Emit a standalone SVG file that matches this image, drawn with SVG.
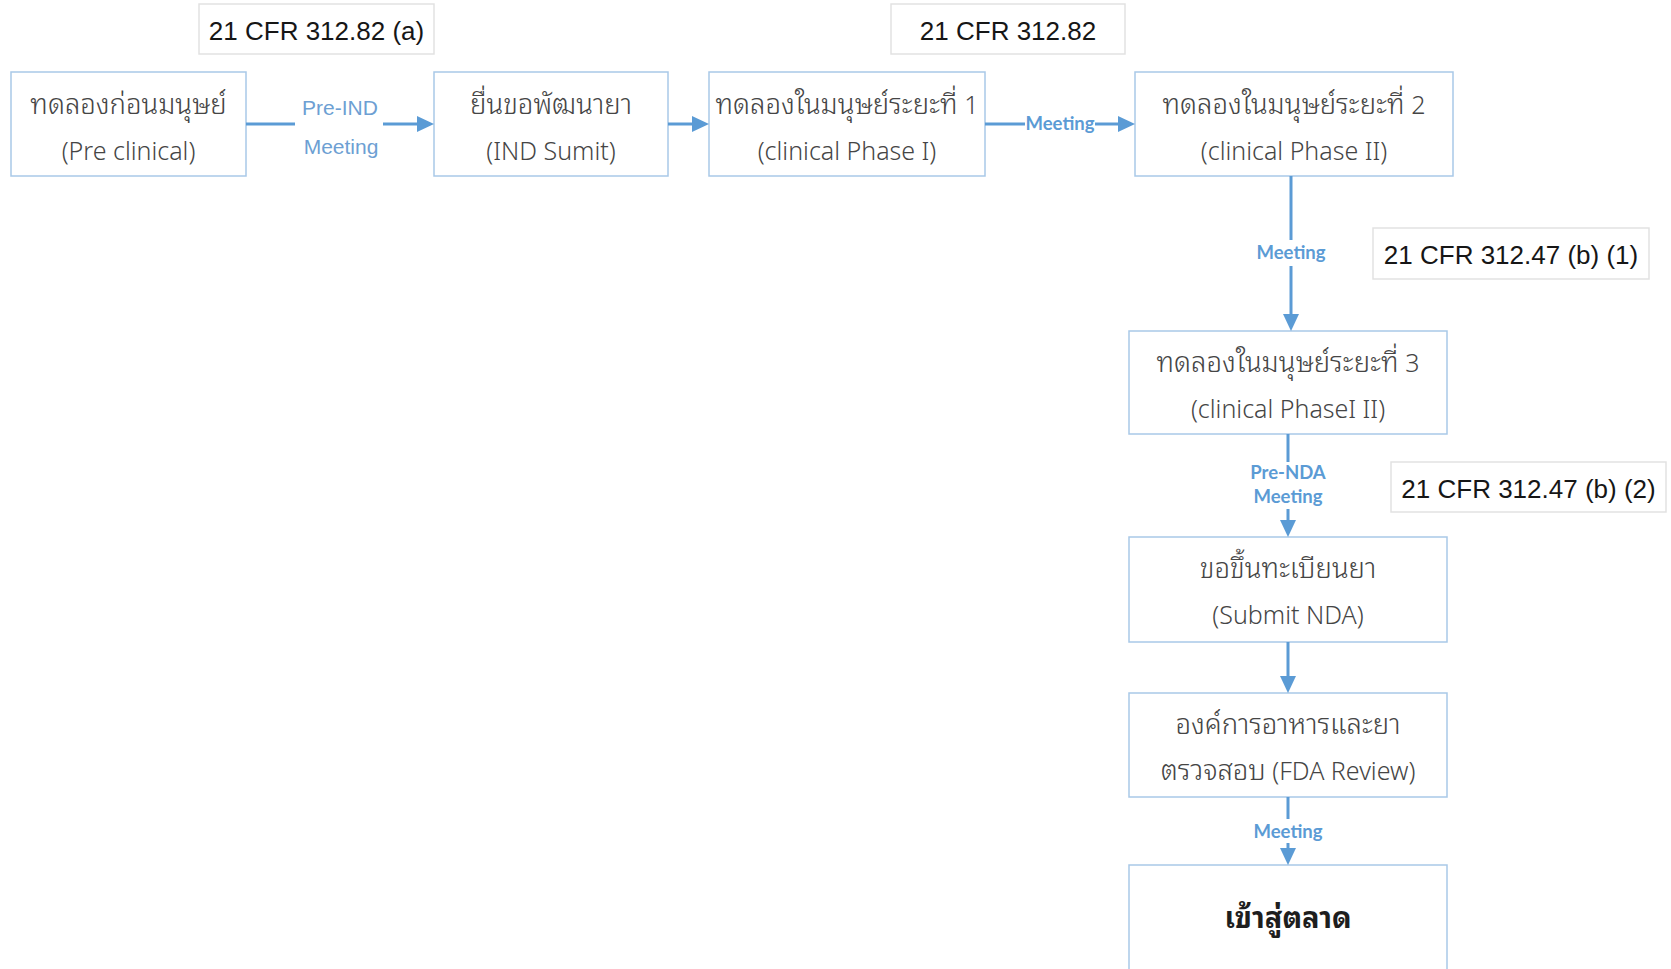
<svg xmlns="http://www.w3.org/2000/svg" width="1671" height="969" viewBox="0 0 1671 969">
  <style>
    .node rect { fill: #ffffff; stroke: #a9c9e8; stroke-width: 1.5; }
    .ref rect { fill: #ffffff; stroke: #e2e2e2; stroke-width: 1.5; }
    .t { font-family: "Noto Sans", "Noto Sans Thai", sans-serif; font-size: 25px; font-weight: 300; fill: #454545; text-anchor: middle; }
    .th { font-family: "Noto Sans Thai Looped", "Loma", "Garuda", "Noto Sans Thai", "Noto Sans", sans-serif; font-size: 27.5px; }
    .tb { font-weight: bold; font-size: 29px; fill: #1e1e1e; }
    .cfr { font-family: "Liberation Sans", Arial, sans-serif; font-size: 26px; fill: #161616; text-anchor: middle; }
    .lbl { font-family: "Liberation Sans", Arial, sans-serif; font-size: 21px; fill: #6d9fd3; text-anchor: middle; }
    .mtg { font-family: Lato, "Open Sans", sans-serif; font-weight: bold; font-size: 18.5px; fill: #5b9bd5; text-anchor: middle; }
    .edge { stroke: #5b9bd5; stroke-width: 3; fill: none; }
  </style>
  <defs>
    <marker id="arrow" markerUnits="userSpaceOnUse" markerWidth="17" markerHeight="16" refX="0" refY="8" orient="auto">
      <path d="M0,0 L17,8 L0,16 Z" fill="#5b9bd5"/>
    </marker>
  </defs>

  <rect width="1671" height="969" fill="#ffffff"/>

  <!-- regulation references -->
  <g id="ref-312-82a" class="ref">
    <rect x="199" y="4" width="235" height="50"/>
    <text class="cfr" x="316.5" y="40">21 CFR 312.82 (a)</text>
  </g>
  <g id="ref-312-82" class="ref">
    <rect x="891" y="4" width="234" height="50"/>
    <text class="cfr" x="1008" y="40">21 CFR 312.82</text>
  </g>
  <g id="ref-312-47b1" class="ref">
    <rect x="1373" y="228" width="276" height="51"/>
    <text class="cfr" x="1511" y="264">21 CFR 312.47 (b) (1)</text>
  </g>
  <g id="ref-312-47b2" class="ref">
    <rect x="1391" y="462" width="275" height="50"/>
    <text class="cfr" x="1528.5" y="498">21 CFR 312.47 (b) (2)</text>
  </g>

  <!-- process steps -->
  <g id="preclinical" class="node">
    <rect x="11" y="72" width="235" height="104"/>
    <text class="t" x="128.5" y="114"><tspan class="th">ทดลองก่อนมนุษย์</tspan></text>
    <text class="t" x="128.5" y="160">(Pre clinical)</text>
  </g>
  <g id="ind-submit" class="node">
    <rect x="434" y="72" width="234" height="104"/>
    <text class="t" x="551" y="114"><tspan class="th">ยื่นขอพัฒนายา</tspan></text>
    <text class="t" x="551" y="160">(IND Sumit)</text>
  </g>
  <g id="phase-1" class="node">
    <rect x="709" y="72" width="276" height="104"/>
    <text class="t" x="847" y="114"><tspan class="th">ทดลองในมนุษย์ระยะที่</tspan> 1</text>
    <text class="t" x="847" y="160">(clinical Phase I)</text>
  </g>
  <g id="phase-2" class="node">
    <rect x="1135" y="72" width="318" height="104"/>
    <text class="t" x="1294" y="114"><tspan class="th">ทดลองในมนุษย์ระยะที่</tspan> 2</text>
    <text class="t" x="1294" y="160">(clinical Phase II)</text>
  </g>
  <g id="phase-3" class="node">
    <rect x="1129" y="331" width="318" height="103"/>
    <text class="t" x="1288" y="372"><tspan class="th">ทดลองในมนุษย์ระยะที่</tspan> 3</text>
    <text class="t" x="1288" y="418">(clinical PhaseI II)</text>
  </g>
  <g id="nda-submit" class="node">
    <rect x="1129" y="537" width="318" height="105"/>
    <text class="t" x="1288" y="578"><tspan class="th">ขอขึ้นทะเบียนยา</tspan></text>
    <text class="t" x="1288" y="624">(Submit NDA)</text>
  </g>
  <g id="fda-review" class="node">
    <rect x="1129" y="693" width="318" height="104"/>
    <text class="t" x="1288" y="734"><tspan class="th">องค์การอาหารและยา</tspan></text>
    <text class="t" x="1288" y="780"><tspan class="th">ตรวจสอบ</tspan> (FDA Review)</text>
  </g>
  <g id="market" class="node">
    <rect x="1129" y="865" width="318" height="120"/>
    <text class="t" x="1288" y="928"><tspan class="th tb">เข้าสู่ตลาด</tspan></text>
  </g>

  <!-- connectors -->
  <g id="connectors">
    <line class="edge" x1="246" y1="124" x2="295" y2="124"/>
    <line class="edge" x1="383" y1="124" x2="417" y2="124" marker-end="url(#arrow)"/>
    <text class="lbl" x="340" y="115">Pre-IND</text>
    <text class="lbl" x="341" y="154">Meeting</text>

    <line class="edge" x1="668" y1="124" x2="692" y2="124" marker-end="url(#arrow)"/>

    <line class="edge" x1="985" y1="124" x2="1025" y2="124"/>
    <line class="edge" x1="1095" y1="124" x2="1118" y2="124" marker-end="url(#arrow)"/>
    <text class="mtg" x="1060" y="130">Meeting</text>

    <line class="edge" x1="1291" y1="176" x2="1291" y2="240"/>
    <line class="edge" x1="1291" y1="266" x2="1291" y2="314" marker-end="url(#arrow)"/>
    <text class="mtg" x="1291" y="259">Meeting</text>

    <line class="edge" x1="1288" y1="434" x2="1288" y2="462"/>
    <line class="edge" x1="1288" y1="509" x2="1288" y2="520" marker-end="url(#arrow)"/>
    <text class="mtg" x="1288" y="479">Pre-NDA</text>
    <text class="mtg" x="1288" y="503">Meeting</text>

    <line class="edge" x1="1288" y1="642" x2="1288" y2="676" marker-end="url(#arrow)"/>

    <line class="edge" x1="1288" y1="797" x2="1288" y2="819"/>
    <line class="edge" x1="1288" y1="843" x2="1288" y2="848" marker-end="url(#arrow)"/>
    <text class="mtg" x="1288" y="838">Meeting</text>
  </g>
</svg>
